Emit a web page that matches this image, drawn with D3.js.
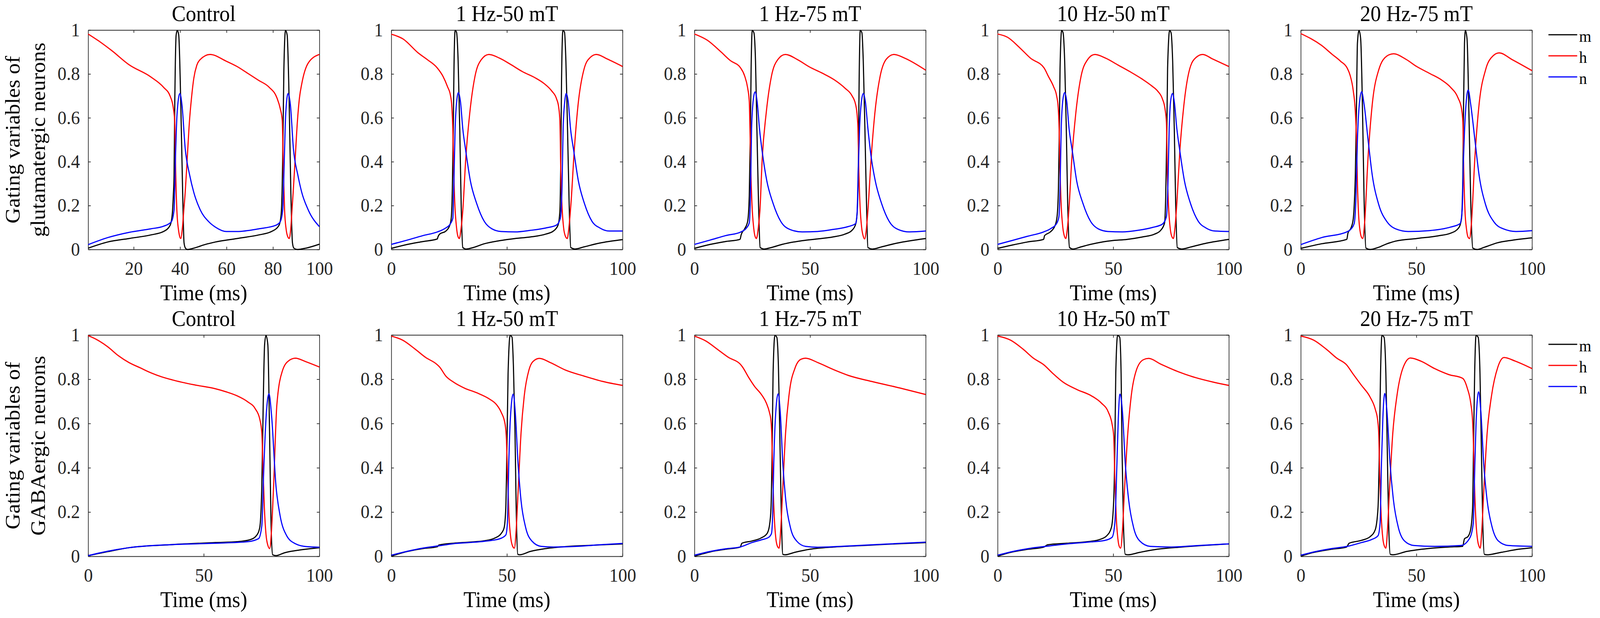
<!DOCTYPE html>
<html>
<head>
<meta charset="utf-8">
<script src="https://cdn.jsdelivr.net/npm/d3@7"></script>
<style>
  html, body { margin: 0; padding: 0; background: #fff; overflow: hidden; }
  svg { display: block; width: 100vw; height: 100vh; }
</style>
</head>
<body>
<svg id="chart"></svg>
<script>
// panel titles and tick values
const titles = ['Control', '1 Hz-50 mT', '1 Hz-75 mT', '10 Hz-50 mT', '20 Hz-75 mT'];
const rowLabels = [['Gating variables of', 'glutamatergic neurons'], ['Gating variables of', 'GABAergic neurons']];
const yTicks = [0, 0.2, 0.4, 0.6, 0.8, 1];
const xTicksCtrlGlu = [20, 40, 60, 80, 100];
const xTicks = [0, 50, 100];
const seriesNames = ['m', 'h', 'n'];
const seriesColors = ['#000000', '#ff0000', '#0000ff'];

// ---- glutamatergic neurons, [time ms, value] ----
const gluCtrlM = [[0.4,0.006],[8.8,0.034],[18,0.05],[27.3,0.066],[32.9,0.082],[35.7,0.11],[36.6,0.158],[37.1,0.25],[37.4,0.34],[37.7,0.66],[38.3,0.978],[38.8,0.998],[39.4,0.978],[40.3,0.66],[41.1,0.26],[41.7,0.03],[42.3,0.006],[43.1,0],[45.9,0.006],[50.6,0.022],[55.2,0.034],[64.5,0.05],[73.8,0.066],[79.4,0.082],[82.6,0.11],[83.5,0.158],[84,0.3],[84.2,0.42],[84.7,0.82],[85.4,0.998],[86.1,0.978],[87,0.66],[87.7,0.26],[88.4,0.03],[89,0.006],[90.5,0],[94.2,0.006],[100,0.024]];
const gluCtrlH = [[0.4,0.982],[5,0.95],[10.6,0.906],[18,0.842],[27.3,0.787],[32.9,0.739],[35.7,0.699],[37.1,0.643],[37.7,0.58],[38.1,0.35],[38.6,0.18],[39.3,0.09],[39.8,0.06],[40.3,0.05],[41,0.1],[41.6,0.18],[42.2,0.26],[43.1,0.42],[44,0.58],[45,0.7],[45.9,0.78],[47.2,0.84],[48.7,0.866],[52.9,0.889],[59.9,0.858],[64.5,0.834],[69.1,0.803],[73.8,0.771],[78.4,0.739],[81.7,0.691],[83.1,0.643],[84,0.588],[84.5,0.35],[85,0.18],[85.7,0.09],[86.3,0.06],[87,0.05],[87.7,0.1],[88.2,0.18],[88.7,0.26],[89.6,0.42],[90.5,0.58],[91.4,0.69],[92.4,0.755],[95.2,0.85],[100,0.889]];
const gluCtrlN = [[0.4,0.022],[8.8,0.054],[18,0.078],[27.3,0.094],[32.9,0.106],[36.2,0.126],[37.4,0.18],[38,0.42],[38.7,0.62],[39.9,0.711],[40.8,0.66],[42.2,0.46],[44.1,0.34],[45.9,0.26],[48.7,0.18],[52.4,0.126],[55.2,0.102],[59.9,0.082],[64.5,0.082],[73.8,0.094],[81.2,0.11],[83.1,0.126],[84.2,0.18],[84.9,0.42],[85.5,0.62],[86.5,0.711],[87.5,0.66],[88.8,0.46],[90.7,0.34],[92.4,0.26],[95.2,0.18],[100,0.104]];

const glu1h50M = [[0,0.005],[7,0.023],[13.6,0.036],[19.9,0.048],[20.2,0.058],[20.9,0.07],[23.6,0.084],[25.2,0.108],[25.9,0.142],[26.4,0.278],[26.8,0.551],[27.1,0.824],[27.6,0.998],[28.2,0.99],[28.9,0.858],[29.6,0.551],[30.2,0.21],[30.9,0.009],[32.2,0.002],[35.5,0.009],[40.2,0.026],[46.8,0.04],[53.5,0.05],[60.1,0.057],[66.8,0.07],[70.1,0.084],[72.1,0.111],[72.9,0.176],[73.3,0.415],[73.6,0.756],[74.2,0.998],[74.9,0.99],[75.5,0.858],[76.2,0.551],[76.9,0.21],[77.6,0.009],[79.4,0.002],[83.4,0.012],[90,0.029],[100,0.045]];
const glu1h50H = [[0,0.981],[5,0.96],[11.6,0.896],[15.6,0.865],[19.9,0.827],[22.3,0.79],[24.3,0.742],[25.6,0.701],[26.2,0.647],[26.6,0.551],[27,0.35],[27.5,0.2],[28.2,0.1],[28.8,0.06],[29.4,0.05],[30.1,0.09],[30.9,0.176],[32.2,0.415],[33.9,0.619],[36.2,0.79],[38.9,0.865],[42.2,0.889],[46.8,0.872],[51.5,0.844],[56.8,0.81],[62.1,0.783],[66.1,0.756],[69.4,0.722],[71.4,0.688],[72.4,0.647],[72.9,0.585],[73.3,0.35],[73.8,0.2],[74.5,0.1],[75.3,0.06],[76.1,0.05],[76.8,0.1],[77.7,0.21],[79.1,0.449],[80.7,0.653],[83.4,0.824],[86,0.875],[88.7,0.889],[93.4,0.868],[100,0.834]];
const glu1h50N = [[0,0.023],[7,0.043],[13.6,0.063],[19.9,0.08],[22.9,0.094],[25.6,0.118],[26.6,0.142],[27,0.278],[27.6,0.551],[28.4,0.688],[29,0.715],[29.9,0.674],[30.9,0.551],[32.2,0.449],[34.2,0.312],[36.9,0.21],[40.2,0.128],[43.5,0.094],[47.5,0.082],[53.5,0.08],[60.1,0.087],[66.8,0.098],[71.4,0.111],[73.1,0.142],[73.8,0.278],[74.3,0.551],[75,0.674],[75.6,0.711],[76.5,0.674],[77.5,0.551],[78.9,0.449],[80.9,0.312],[83.5,0.21],[86.8,0.128],[90.2,0.098],[94.2,0.084],[100,0.084]];

const glu1h75M = [[0,0.005],[6.8,0.023],[13.4,0.036],[19.7,0.046],[20.2,0.067],[21.7,0.094],[23,0.128],[23.7,0.244],[24.2,0.552],[24.5,0.824],[25,0.998],[25.7,0.988],[26.4,0.858],[27,0.552],[27.7,0.21],[28.4,0.009],[30,0.002],[33.3,0.009],[37.9,0.023],[46.6,0.04],[53.2,0.048],[59.8,0.057],[65.1,0.07],[68.1,0.087],[69.7,0.115],[70.4,0.176],[70.9,0.415],[71.2,0.756],[71.7,0.998],[72.4,0.988],[73,0.858],[73.7,0.552],[74.4,0.21],[75,0.009],[77,0.002],[81,0.012],[87.6,0.029],[100,0.05]];
const glu1h75H = [[0,0.982],[5.5,0.954],[11.5,0.9],[15.4,0.862],[19.9,0.828],[21.7,0.791],[23,0.736],[23.7,0.675],[24,0.552],[24.4,0.35],[24.9,0.2],[25.6,0.1],[26.2,0.06],[26.8,0.05],[27.5,0.09],[28.3,0.176],[29.3,0.415],[31,0.62],[33.3,0.79],[36,0.865],[39.3,0.889],[44.6,0.865],[49.9,0.831],[55.2,0.804],[60.5,0.773],[65.1,0.735],[68.1,0.701],[69.7,0.66],[70.4,0.606],[70.7,0.552],[71.1,0.35],[71.6,0.2],[72.3,0.1],[73,0.06],[73.6,0.048],[74.3,0.09],[75,0.176],[76.4,0.415],[78,0.62],[80.3,0.79],[83,0.868],[86.3,0.889],[90.9,0.872],[100,0.817]];
const glu1h75N = [[0,0.023],[6.8,0.043],[13.4,0.063],[20.1,0.08],[22.5,0.098],[23.7,0.121],[24.2,0.244],[24.7,0.552],[25.5,0.688],[26.2,0.718],[27.1,0.674],[28.1,0.552],[29.7,0.415],[31.3,0.312],[34,0.21],[37.3,0.128],[41.3,0.091],[46.6,0.08],[53.2,0.082],[59.8,0.091],[66.4,0.104],[69.7,0.118],[70.3,0.16],[70.8,0.35],[71.4,0.552],[72.2,0.674],[73,0.711],[73.9,0.674],[75,0.552],[76.5,0.415],[78.2,0.312],[80.9,0.21],[84.2,0.128],[88.1,0.091],[92.9,0.08],[100,0.084]];

const glu10h50M = [[0,0.005],[6.3,0.02],[12.9,0.034],[19.9,0.046],[20.3,0.063],[22.8,0.08],[24.8,0.108],[25.7,0.149],[26.3,0.278],[26.7,0.551],[27,0.824],[27.7,0.998],[28.3,0.988],[29,0.858],[29.7,0.551],[30.3,0.21],[31.1,0.009],[32.5,0.002],[36.1,0.012],[42.7,0.029],[49.3,0.04],[56,0.046],[62.6,0.057],[67.9,0.07],[70.5,0.087],[72.2,0.121],[72.7,0.244],[73.2,0.551],[73.5,0.824],[74.4,0.998],[75,0.988],[75.7,0.858],[76.4,0.551],[77,0.21],[77.7,0.009],[79.5,0.002],[83.8,0.012],[90.4,0.029],[100,0.046]];
const glu10h50H = [[0,0.982],[4.3,0.967],[9.6,0.919],[14.2,0.872],[20.1,0.827],[21.9,0.79],[24.2,0.742],[25.5,0.701],[26.2,0.647],[26.6,0.551],[27,0.35],[27.5,0.2],[28.2,0.1],[28.9,0.06],[29.5,0.05],[30.1,0.09],[30.8,0.176],[32.1,0.415],[33.8,0.62],[36.1,0.79],[38.7,0.862],[42.1,0.889],[46.7,0.872],[52,0.841],[57.3,0.81],[62.6,0.776],[66.6,0.746],[69.2,0.722],[71.2,0.688],[72.4,0.64],[73,0.578],[73.4,0.35],[73.9,0.2],[74.6,0.1],[75.3,0.06],[76,0.05],[76.7,0.1],[77.5,0.21],[78.8,0.449],[80.5,0.653],[83.1,0.824],[85.8,0.875],[88.7,0.889],[93,0.868],[100,0.834]];
const glu10h50N = [[0,0.023],[6.3,0.041],[12.9,0.06],[19.9,0.08],[22.8,0.094],[25.5,0.118],[26.5,0.149],[27,0.278],[27.5,0.551],[28.3,0.688],[29,0.715],[29.9,0.674],[30.9,0.551],[32.3,0.449],[34.2,0.312],[36.9,0.21],[40.2,0.128],[43.5,0.094],[47.7,0.082],[54,0.08],[60.6,0.087],[67.2,0.101],[71.2,0.115],[73,0.149],[73.6,0.278],[74.2,0.551],[74.8,0.674],[75.6,0.711],[76.4,0.674],[77.5,0.551],[78.8,0.449],[80.8,0.312],[83.4,0.21],[86.8,0.128],[90.1,0.098],[94,0.084],[100,0.082]];

const glu20h75M = [[0,0.005],[9,0.026],[19.9,0.046],[20.4,0.074],[21.8,0.1],[22.7,0.14],[23.2,0.22],[23.6,0.34],[24.1,0.66],[24.5,0.94],[25.2,0.998],[25.9,0.96],[26.8,0.58],[27.4,0.22],[28.2,0.006],[30,0],[33.7,0.01],[37.3,0.026],[41,0.038],[50.1,0.05],[59.3,0.062],[64.8,0.074],[68.4,0.1],[69.5,0.14],[69.8,0.2],[70.1,0.34],[70.4,0.66],[70.8,0.94],[71.2,0.998],[71.9,0.96],[72.8,0.58],[73.5,0.22],[74.4,0.006],[76.2,0],[79.4,0.01],[84.9,0.03],[91.3,0.042],[100,0.053]];
const glu20h75H = [[0,0.984],[9,0.93],[13.5,0.89],[17.2,0.858],[20.1,0.826],[21.3,0.795],[22.7,0.723],[23.6,0.627],[24.1,0.5],[24.5,0.3],[25,0.16],[25.7,0.08],[26.3,0.055],[26.8,0.05],[27.6,0.12],[29.1,0.42],[30.9,0.66],[33.7,0.818],[37.3,0.882],[40.1,0.892],[45.6,0.866],[50.1,0.834],[55.6,0.803],[61.1,0.771],[64.8,0.739],[68,0.691],[69.5,0.643],[70.1,0.58],[70.5,0.35],[71,0.18],[71.7,0.09],[72.4,0.055],[73,0.05],[73.8,0.12],[75.3,0.42],[77.1,0.66],[79.9,0.818],[83.1,0.882],[85.8,0.896],[91.3,0.866],[100,0.815]];
const glu20h75N = [[0,0.022],[9,0.054],[19.9,0.08],[21.8,0.094],[23.1,0.118],[23.8,0.22],[24.5,0.5],[25.3,0.66],[26.3,0.719],[27.4,0.66],[29.1,0.5],[30.9,0.34],[33.7,0.205],[37.3,0.126],[41,0.094],[46.5,0.082],[55.6,0.086],[64.8,0.102],[68.9,0.118],[69.8,0.18],[70.4,0.42],[71.2,0.62],[72.4,0.727],[73.5,0.66],[75.3,0.5],[77.1,0.34],[79.9,0.205],[83.5,0.126],[87.6,0.094],[93.1,0.082],[100,0.086]];

// ---- GABAergic neurons ----
const gabaCtrlM = [[0,0.003],[8.4,0.021],[17.7,0.039],[36.4,0.053],[55,0.062],[64.4,0.066],[70,0.075],[72.8,0.094],[74.2,0.13],[75.1,0.32],[75.7,0.684],[76.3,0.956],[76.9,0.998],[77.7,0.956],[78.4,0.593],[79.1,0.139],[79.8,0.007],[81.2,0.003],[84.9,0.016],[92.4,0.03],[100,0.039]];
const gabaCtrlH = [[0,0.997],[3.7,0.979],[8.4,0.947],[13.1,0.906],[17.7,0.875],[22.4,0.852],[27.1,0.829],[31.7,0.811],[36.4,0.797],[45.7,0.775],[55,0.757],[59.7,0.743],[64.4,0.725],[69,0.698],[72.3,0.666],[74.2,0.62],[75.1,0.557],[75.6,0.4],[76.2,0.22],[76.9,0.1],[77.7,0.05],[78.5,0.035],[79.3,0.12],[80.2,0.32],[81.6,0.684],[84,0.838],[86.8,0.884],[89.6,0.895],[94.2,0.879],[100,0.855]];
const gabaCtrlN = [[0,0.003],[8.4,0.023],[17.7,0.039],[36.4,0.053],[55,0.059],[69,0.066],[73.7,0.08],[75.1,0.139],[76,0.411],[77,0.638],[78.2,0.734],[79.3,0.638],[81.2,0.32],[83,0.184],[85.8,0.094],[89.6,0.057],[94.2,0.044],[100,0.041]];

const gaba1h50M = [[0,0.001],[7,0.022],[13.6,0.035],[19.9,0.043],[20.6,0.051],[26.9,0.059],[33.6,0.064],[40.2,0.07],[44.9,0.083],[47.5,0.103],[48.8,0.13],[49.5,0.218],[50,0.489],[50.5,0.827],[51.4,0.998],[52.2,0.99],[52.8,0.861],[53.5,0.557],[54,0.218],[54.7,0.009],[55.5,0.007],[60.1,0.022],[66.8,0.035],[76.7,0.045],[86.7,0.05],[100,0.056]];
const gaba1h50H = [[0,0.995],[5,0.976],[10.3,0.936],[14.9,0.898],[19.6,0.868],[20.9,0.855],[23.6,0.814],[26.9,0.787],[31.6,0.76],[36.9,0.739],[42.2,0.712],[45.5,0.685],[47.5,0.651],[49.2,0.597],[49.8,0.523],[50.3,0.35],[50.9,0.18],[51.7,0.08],[52.5,0.045],[53.2,0.037],[54,0.12],[54.8,0.286],[56.1,0.557],[57.5,0.726],[59.5,0.841],[61.8,0.885],[64.1,0.894],[68.8,0.875],[75.4,0.841],[83.4,0.814],[91.4,0.79],[100,0.772]];
const gaba1h50N = [[0,0.005],[7,0.023],[13.6,0.037],[20.3,0.047],[26.9,0.057],[33.6,0.062],[40.2,0.068],[46.8,0.079],[49.5,0.096],[50.2,0.15],[50.8,0.421],[51.5,0.624],[52.7,0.733],[53.6,0.651],[54.8,0.421],[56.1,0.252],[58.1,0.13],[60.8,0.069],[64.8,0.045],[70.1,0.042],[80.1,0.045],[90,0.052],[100,0.058]];

const gaba1h75M = [[0,0.001],[6.8,0.02],[13.5,0.032],[19.8,0.042],[20.5,0.059],[24.8,0.069],[28.8,0.083],[31.4,0.103],[32.4,0.137],[33.1,0.218],[33.6,0.489],[34,0.827],[34.8,0.998],[35.6,0.99],[36.3,0.861],[36.9,0.557],[37.5,0.218],[38.2,0.009],[39.1,0.007],[43.4,0.018],[50,0.032],[60,0.042],[73.3,0.049],[86.6,0.056],[100,0.062]];
const gaba1h75H = [[0,0.995],[4.9,0.973],[10.2,0.933],[14.8,0.898],[19.8,0.868],[20.8,0.855],[23.5,0.807],[26.1,0.766],[28.8,0.733],[31.1,0.692],[32.4,0.651],[33.1,0.611],[33.4,0.557],[33.9,0.35],[34.5,0.18],[35.2,0.08],[35.9,0.045],[36.6,0.037],[37.3,0.12],[38.1,0.286],[39.4,0.557],[41.1,0.746],[43.4,0.848],[46,0.89],[48,0.895],[53.4,0.875],[60,0.844],[66.6,0.817],[76.6,0.79],[86.6,0.766],[100,0.731]];
const gaba1h75N = [[0,0.005],[6.8,0.022],[13.5,0.034],[20.1,0.043],[24.8,0.062],[28.8,0.074],[32.1,0.086],[33.3,0.103],[33.8,0.184],[34.3,0.421],[35,0.624],[36.2,0.734],[37.1,0.651],[38.2,0.421],[39.5,0.252],[41.5,0.13],[44.2,0.069],[48,0.045],[53.4,0.041],[63.3,0.045],[76.6,0.052],[100,0.064]];

const gaba10h50M = [[0,0.001],[5.7,0.018],[13.3,0.032],[20,0.042],[21.6,0.052],[29.9,0.059],[38.9,0.066],[44.2,0.076],[47.2,0.093],[49.2,0.13],[50.2,0.252],[50.7,0.489],[51.1,0.827],[51.9,0.998],[52.8,0.99],[53.4,0.827],[53.8,0.489],[54.4,0.15],[55.2,0.009],[56.3,0.007],[61.5,0.018],[69.1,0.032],[79.6,0.042],[100,0.056]];
const gaba10h50H = [[0,0.995],[5.7,0.976],[11,0.936],[15.5,0.895],[20,0.865],[23.8,0.827],[28.3,0.787],[34.4,0.753],[40.4,0.726],[44.9,0.692],[47.9,0.651],[49.5,0.597],[50.2,0.543],[50.7,0.35],[51.3,0.18],[52,0.08],[52.6,0.045],[53.2,0.037],[54,0.12],[54.8,0.286],[56.3,0.557],[57.8,0.726],[60,0.841],[63,0.888],[65.3,0.894],[70.6,0.868],[78.1,0.834],[85.7,0.807],[93.2,0.787],[100,0.772]];
const gaba10h50N = [[0,0.005],[5.7,0.02],[13.3,0.035],[20.8,0.045],[29.9,0.056],[38.9,0.064],[46.4,0.072],[49.5,0.086],[50.7,0.15],[51.6,0.421],[52.2,0.624],[52.9,0.733],[54,0.651],[55.2,0.421],[56.7,0.252],[58.8,0.13],[61.5,0.069],[66,0.045],[75.1,0.042],[87.2,0.049],[100,0.056]];

const gaba20h75M = [[0,0.001],[5.7,0.018],[13.3,0.032],[19.8,0.042],[20.9,0.059],[26.2,0.072],[30,0.089],[32.2,0.12],[33.4,0.218],[34,0.489],[34.5,0.827],[35.1,0.998],[36,0.99],[36.8,0.827],[37.4,0.489],[38,0.15],[38.7,0.009],[39.8,0.007],[45.8,0.022],[54.9,0.035],[64,0.042],[70,0.045],[70.8,0.079],[72.3,0.089],[73.5,0.123],[74.3,0.218],[74.7,0.489],[75.2,0.827],[75.8,0.998],[76.7,0.99],[77.5,0.827],[78.1,0.489],[78.7,0.15],[79.4,0.009],[80.6,0.007],[86.7,0.018],[94.3,0.032],[100,0.039]];
const gaba20h75H = [[0,0.995],[5.7,0.976],[11,0.936],[15.6,0.895],[19.8,0.865],[22.4,0.827],[26.2,0.773],[30,0.719],[32.2,0.665],[33.3,0.611],[33.7,0.557],[34.2,0.35],[34.8,0.18],[35.5,0.08],[36.2,0.045],[36.8,0.037],[37.5,0.12],[38.3,0.286],[39.8,0.557],[41.6,0.726],[44.3,0.854],[47.4,0.896],[51.9,0.882],[57.9,0.848],[64,0.821],[70,0.804],[72,0.76],[73.5,0.692],[74.3,0.611],[74.7,0.5],[75.2,0.3],[75.8,0.15],[76.5,0.07],[77.1,0.045],[77.6,0.037],[78.3,0.12],[79.1,0.286],[80.6,0.557],[82.5,0.726],[85.2,0.854],[87.9,0.898],[92.7,0.882],[100,0.848]];
const gaba20h75N = [[0,0.005],[5.7,0.02],[13.3,0.035],[20.1,0.045],[26.2,0.062],[30.7,0.076],[33.4,0.093],[34.3,0.15],[34.9,0.421],[35.5,0.624],[36.3,0.736],[37.3,0.651],[38.6,0.421],[40.1,0.252],[42.2,0.13],[44.9,0.069],[48.9,0.049],[57.9,0.045],[69.3,0.049],[73.1,0.083],[74.6,0.15],[75.3,0.421],[75.9,0.624],[76.9,0.743],[77.9,0.651],[79.1,0.421],[80.6,0.252],[82.8,0.13],[85.5,0.069],[89.7,0.049],[100,0.045]];

// rows of panels: each panel holds [m, h, n]
const rows = [
  [[gluCtrlM, gluCtrlH, gluCtrlN], [glu1h50M, glu1h50H, glu1h50N], [glu1h75M, glu1h75H, glu1h75N], [glu10h50M, glu10h50H, glu10h50N], [glu20h75M, glu20h75H, glu20h75N]],
  [[gabaCtrlM, gabaCtrlH, gabaCtrlN], [gaba1h50M, gaba1h50H, gaba1h50N], [gaba1h75M, gaba1h75H, gaba1h75N], [gaba10h50M, gaba10h50H, gaba10h50N], [gaba20h75M, gaba20h75H, gaba20h75N]]
];

const W = 4283, H = 1583;
const font = '"Liberation Serif", "Times New Roman", serif';
const axisColor = '#262626';
const panelW = 619, panelStep = 811.5, firstLeft = 236;
const rowBox = [{top: 77, bottom: 639, legendTop: 89}, {top: 858, bottom: 1425, legendTop: 882}];

// drawing space is fixed at 4283x1583 and stretched to whatever the window is
const svg = d3.select('#chart')
  .attr('viewBox', `0 0 ${W} ${H}`)
  .attr('preserveAspectRatio', 'none')
  .style('font-family', font);
svg.append('rect').attr('width', W).attr('height', H).attr('fill', '#fff');

rows.forEach((row, r) => {
  const {top, bottom, legendTop} = rowBox[r];

  // y label, two lines
  rowLabels[r].forEach((txt, k) => {
    svg.append('text')
      .attr('transform', `translate(${52 + k * 68},${(top + bottom) / 2}) rotate(-90)`)
      .attr('text-anchor', 'middle')
      .attr('font-size', 56)
      .attr('fill', '#000')
      .text(txt);
  });

  row.forEach((series, c) => {
    const left = firstLeft + c * panelStep;
    const isFirst = (r === 0 && c === 0);
    const x = d3.scaleLinear().domain([isFirst ? 0.4 : 0, 100]).range([left, left + panelW]);
    const y = d3.scaleLinear().domain([0, 1]).range([bottom, top]);
    const g = svg.append('g');

    const styleAxis = sel => {
      sel.attr('font-family', font).attr('font-size', 48);
      sel.selectAll('path.domain').attr('stroke', axisColor).attr('stroke-width', 1.8);
      sel.selectAll('.tick line').attr('stroke', axisColor).attr('stroke-width', 1.8);
      sel.selectAll('.tick text').attr('fill', axisColor).style('font-family', font);
    };

    const tv = isFirst ? xTicksCtrlGlu : xTicks;
    g.append('g').attr('transform', `translate(0,${bottom})`)
      .call(d3.axisBottom(x).tickValues(tv).tickFormat(d3.format('d')).tickSizeInner(-7).tickSizeOuter(0).tickPadding(31))
      .call(styleAxis);
    g.append('g').attr('transform', `translate(0,${top})`)
      .call(d3.axisTop(x).tickValues(tv).tickFormat('').tickSizeInner(-7).tickSizeOuter(0))
      .call(styleAxis);
    g.append('g').attr('transform', `translate(${left},0)`)
      .call(d3.axisLeft(y).tickValues(yTicks).tickFormat(d => String(+d.toFixed(1))).tickSizeInner(-7).tickSizeOuter(0).tickPadding(22))
      .call(styleAxis);
    g.append('g').attr('transform', `translate(${left + panelW},0)`)
      .call(d3.axisRight(y).tickValues(yTicks).tickFormat('').tickSizeInner(-7).tickSizeOuter(0))
      .call(styleAxis);

    const line = d3.line().x(d => x(d[0])).y(d => y(d[1])).curve(d3.curveMonotoneX);
    series.forEach((data, k) => {
      g.append('path')
        .attr('d', line(data))
        .attr('fill', 'none')
        .attr('stroke', seriesColors[k])
        .attr('stroke-width', 3)
        .attr('stroke-linejoin', 'round');
    });

    // title
    g.append('text')
      .attr('x', left + panelW / 2).attr('y', top - 23)
      .attr('text-anchor', 'middle').attr('font-size', 56).attr('fill', '#000')
      .text(titles[c]);
    // x label
    g.append('text')
      .attr('x', left + panelW / 2).attr('y', bottom + 130)
      .attr('text-anchor', 'middle').attr('font-size', 56).attr('fill', '#000')
      .text('Time (ms)');
  });

  // legend to the right of the last panel
  const lx = firstLeft + 4 * panelStep + panelW + 44;
  seriesNames.forEach((name, k) => {
    const ly = legendTop + k * 54;
    svg.append('line')
      .attr('x1', lx).attr('x2', lx + 77).attr('y1', ly).attr('y2', ly)
      .attr('stroke', seriesColors[k]).attr('stroke-width', 3);
    svg.append('text')
      .attr('x', lx + 82).attr('y', ly + 18)
      .attr('font-size', 42).attr('fill', '#000')
      .text(name);
  });
});
</script>
</body>
</html>
